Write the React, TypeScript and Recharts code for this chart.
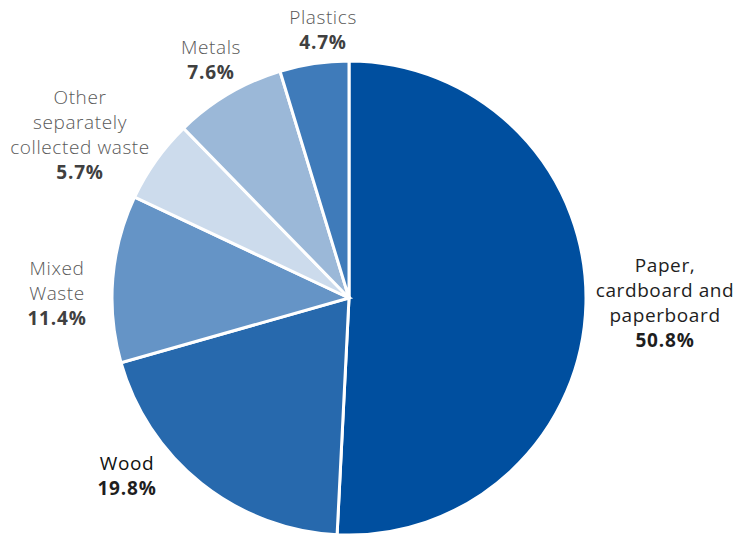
import { PieChart, Pie, Cell } from "recharts";

const categories = [
  "Paper, cardboard and paperboard",
  "Wood",
  "Mixed Waste",
  "Other separately collected waste",
  "Metals",
  "Plastics",
];
const shares = [50.8, 19.8, 11.4, 5.7, 7.6, 4.7];
const colors = ["#004f9f", "#2769ad", "#6594c6", "#ccdbec", "#9bb8d8", "#3f7bba"];

// label text broken into lines as in the original figure
const labelLines = [
  ["Paper,", "cardboard and", "paperboard"],
  ["Wood"],
  ["Mixed", "Waste"],
  ["Other", "separately", "collected waste"],
  ["Metals"],
  ["Plastics"],
];
// label block anchors (centre x, first line y), relative to pie centre
const labelAnchor = [
  [316, -33],
  [-222, 165],
  [-292, -30],
  [-269, -201],
  [-138, -251],
  [-26, -281],
];
const nameColor = ["#1e1e1e", "#111111", "#595959", "#595959", "#595959", "#595959"];

const data = categories.map((name, i) => ({ name, value: shares[i] }));

const CX = 349;
const CY = 298;
const LINE = 25;
const FONT = "'Open Sans', Lato, sans-serif";

const renderLabel = (props: any) => {
  const i = props.index;
  const [ax, ay] = labelAnchor[i];
  const x = CX + ax;
  const lines = labelLines[i];
  return (
    <g key={`lbl-${i}`}>
      {lines.map((t, k) => (
        <text
          key={k}
          x={x}
          y={CY + ay + k * LINE}
          textAnchor="middle"
          dominantBaseline="central"
          fill={nameColor[i]}
          fontSize={19}
          letterSpacing={0.6}
          fontWeight={i < 2 ? 400 : 300}
          fontFamily={FONT}
        >
          {t}
        </text>
      ))}
      <text
        x={x}
        y={CY + ay + lines.length * LINE}
        textAnchor="middle"
        dominantBaseline="central"
        fill={i === 0 || i === 1 ? "#1e1e1e" : "#404040"}
        fontSize={19}
        letterSpacing={0.8}
        fontWeight={700}
        fontFamily={FONT}
      >
        {shares[i].toFixed(1)}%
      </text>
    </g>
  );
};

export default function App() {
  return (
    <div style={{ position: "absolute", left: 0, top: 0, width: 735, height: 534, background: "#fff" }}>
      <PieChart width={735} height={534} margin={{ top: 0, right: 0, bottom: 0, left: 0 }}>
        <Pie
          data={data}
          dataKey="value"
          nameKey="name"
          cx={CX}
          cy={CY}
          outerRadius={237}
          startAngle={90}
          endAngle={-270}
          stroke="#ffffff"
          strokeWidth={3}
          label={renderLabel}
          labelLine={false}
          isAnimationActive={false}
        >
          {data.map((d, i) => (
            <Cell key={d.name} fill={colors[i]} />
          ))}
        </Pie>
      </PieChart>
    </div>
  );
}
